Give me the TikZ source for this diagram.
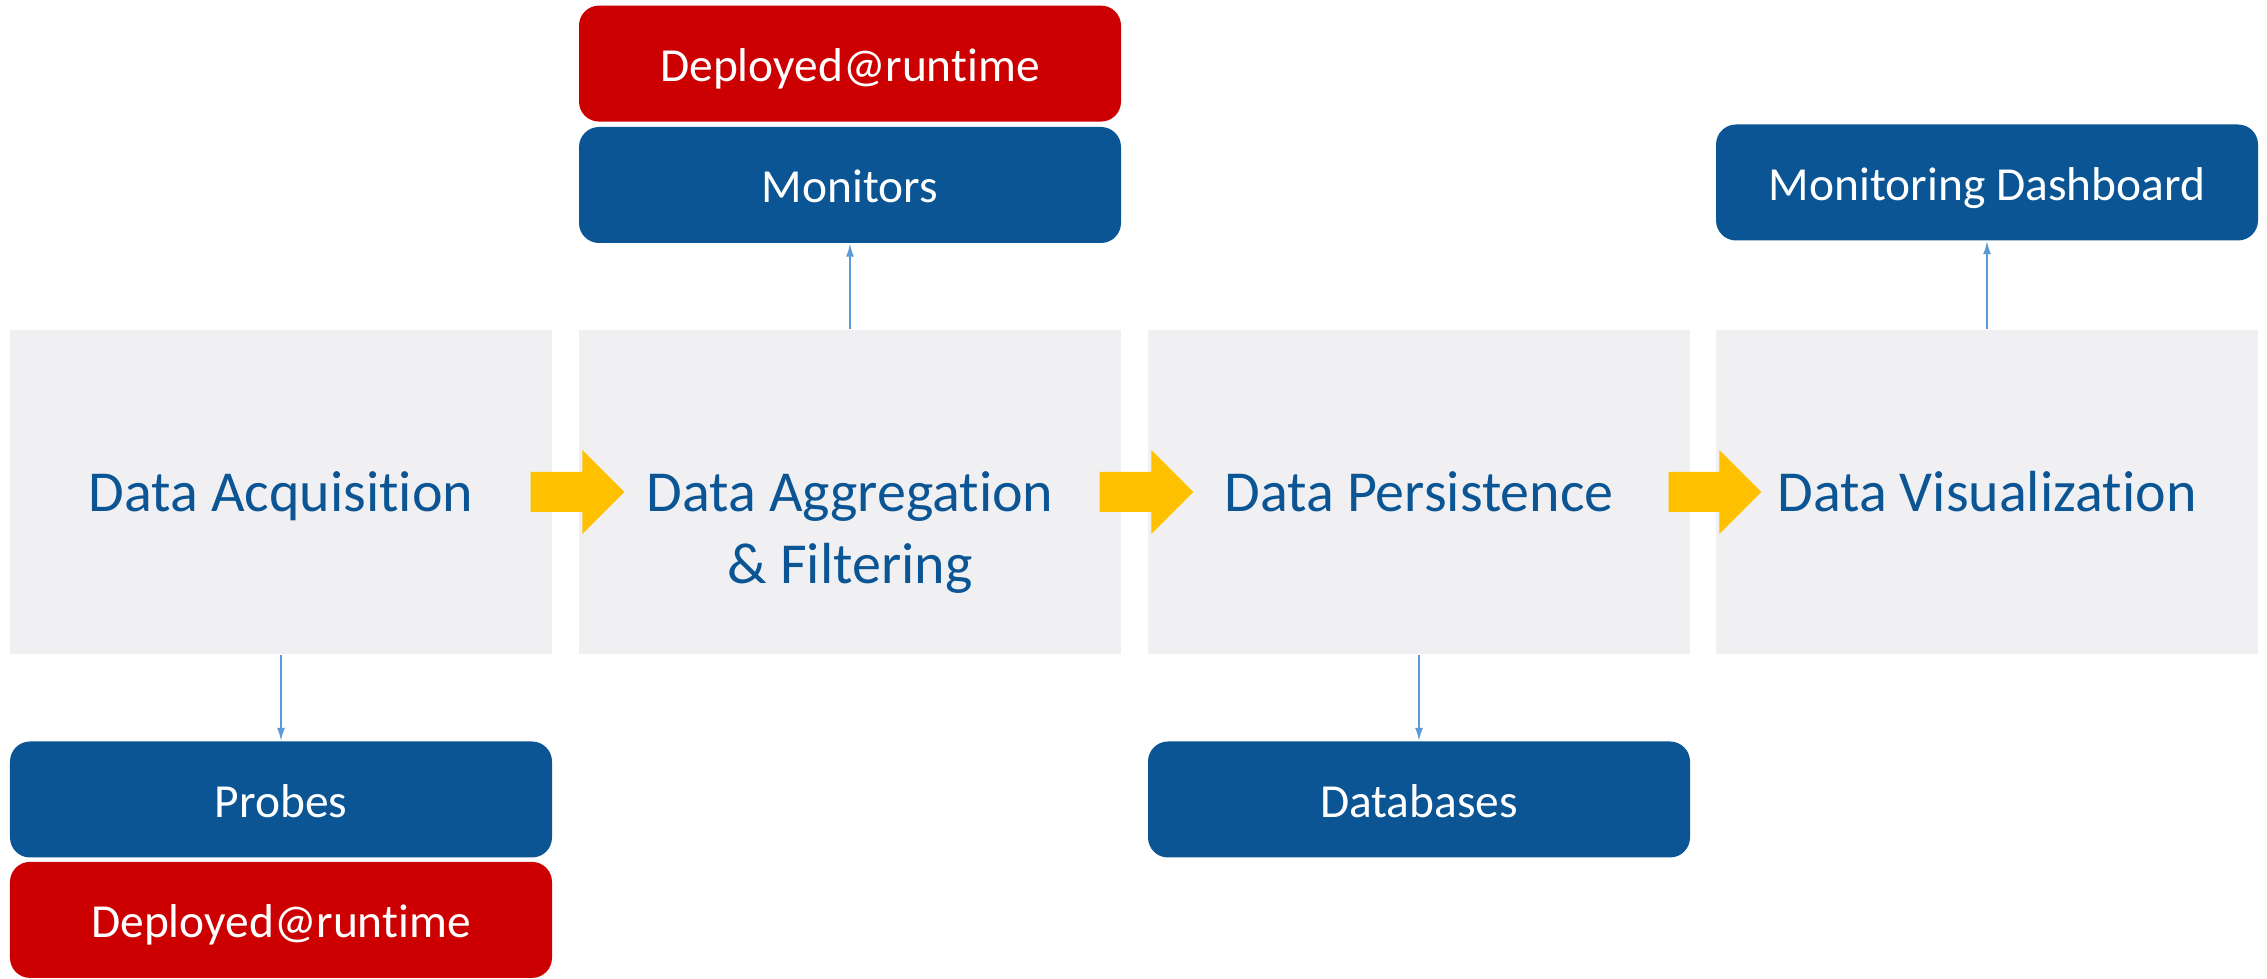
\documentclass[tikz,border=0pt]{standalone}
\usepackage{fontspec}
\setmainfont{Carlito}[Ligatures=NoCommon]
\usetikzlibrary{positioning,calc,arrows.meta}
\definecolor{stagegray}{RGB}{240,240,242}
\definecolor{toolblue}{RGB}{11,85,149}
\definecolor{deployred}{RGB}{204,0,0}
\definecolor{flowyellow}{RGB}{255,192,0}
\definecolor{linkblue}{RGB}{91,155,213}
\begin{document}
\begin{tikzpicture}[x=1cm,y=1cm,
  stage/.style={fill=stagegray,minimum width=5.42cm,minimum height=3.24cm,inner sep=0,
    text=toolblue,font=\fontsize{16.5}{20.3}\selectfont,text height=2.72ex,text depth=0.35ex},
  tool/.style={fill=toolblue,rounded corners=0.2cm,minimum width=5.42cm,minimum height=1.16cm,inner sep=0,
    text=white,font=\fontsize{13.5}{16}\selectfont,text height=2.5ex,text depth=0.4ex},
  deployed/.style={tool,fill=deployred},
  link/.style={draw=linkblue,line width=0.45pt,-{Latex[length=1.3mm,width=0.8mm]}},
  flow/.style={fill=flowyellow}]
\useasboundingbox (0,0) rectangle (22.67,9.79);
% pipeline stages
\node[stage] (acq) at (2.81,4.87) {Data Acquisition};
\node[stage] (agg) at (8.50,4.87) {\begin{tabular}[t]{@{}c@{}}Data Aggregation\\\& Filtering\end{tabular}};
\node[stage] (per) at (14.19,4.87) {Data Persistence};
\node[stage] (vis) at (19.87,4.87) {Data Visualization};
% tools
\node[tool] (mon) at (8.50,7.94) {Monitors};
\node[deployed,above=0.04cm of mon] (monrt) {Deployed@runtime};
\node[tool] (dash) at (19.87,7.965) {Monitoring Dashboard};
\node[tool] (probes) at (2.81,1.795) {Probes};
\node[deployed,below=0.03cm of probes] (probesrt) {Deployed@runtime};
\node[tool] (db) at (14.19,1.795) {Databases};
% flow between stages
\foreach \a/\b in {acq/agg,agg/per,per/vis}
  \fill[flow] ($(\a.east)+(-0.22,0.2)$) -- ($(\b.west)+(0.04,0.2)$) -- ++(0,0.22)
    -- ($(\b.west)+(0.46,0)$) -- ($(\b.west)+(0.04,-0.42)$) -- ++(0,0.22)
    -- ($(\a.east)+(-0.22,-0.2)$) -- cycle;
% links
\draw[link] (agg.north) -- (mon.south);
\draw[link] (vis.north) -- (dash.south);
\draw[link] (acq.south) -- (probes.north);
\draw[link] (per.south) -- (db.north);
\end{tikzpicture}
\end{document}
